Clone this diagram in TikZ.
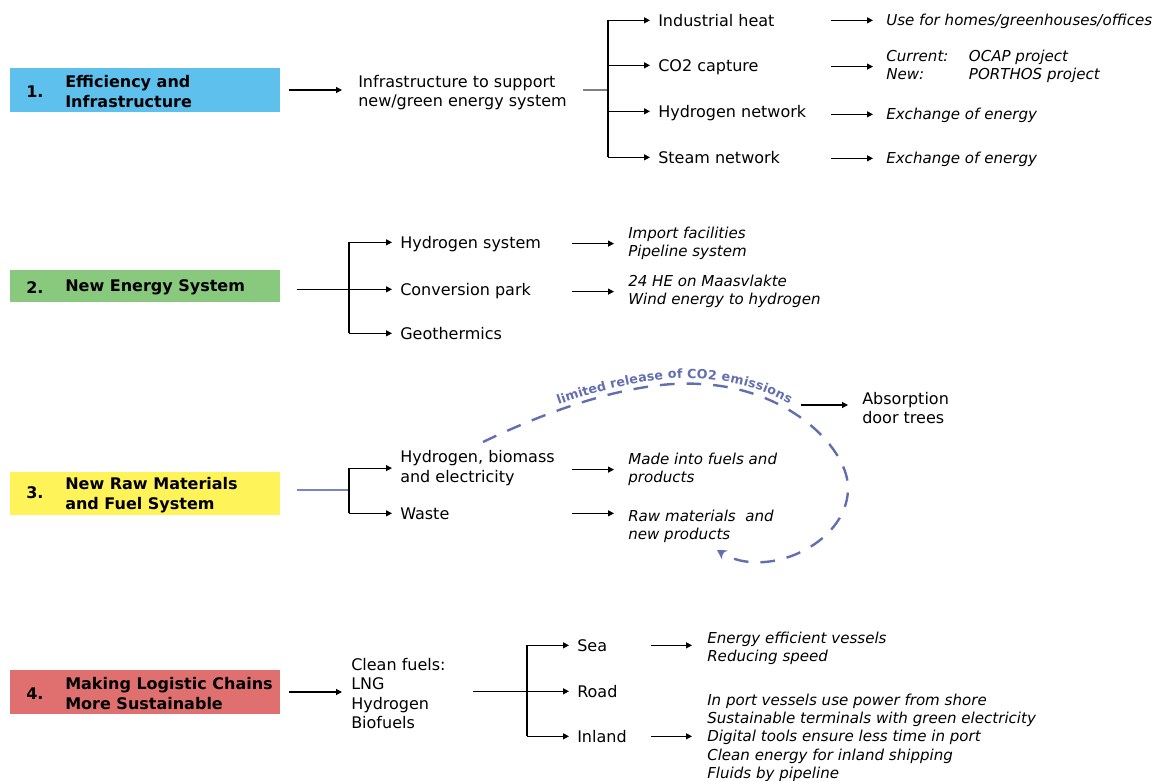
\documentclass[tikz,border=0pt]{standalone}
\usepackage{fontspec}
\setmainfont{DejaVu Sans}
\usetikzlibrary{arrows.meta,decorations.text,positioning}

\definecolor{boxblue}{RGB}{93,192,237}
\definecolor{boxgreen}{RGB}{136,201,126}
\definecolor{boxyellow}{RGB}{255,243,90}
\definecolor{boxred}{RGB}{224,112,112}
\definecolor{loopblue}{RGB}{98,110,176}
\definecolor{feedblue}{RGB}{120,132,200}

\tikzset{
  sect/.style={fill=#1, minimum width=202.5pt, anchor=west, inner sep=0pt},
  num/.style={anchor=west, inner sep=0pt, yshift=-1pt, font=\bfseries\fontsize{12}{15}\selectfont},
  lab/.style={anchor=west, inner sep=0pt, yshift=-1pt, align=left, font=\bfseries\fontsize{12}{15}\selectfont},
  item/.style={anchor=west, inner sep=0pt, yshift=-1pt, text height=8.8pt, text depth=0pt, font=\fontsize{12}{14.5}\selectfont},
  items/.style={anchor=west, inner sep=0pt, yshift=-1.2pt, align=left, font=\fontsize{12}{14.5}\selectfont},
  note/.style={anchor=west, inner sep=0pt, yshift=-1pt, text height=8.2pt, text depth=0pt, font=\itshape\fontsize{11.3}{13.7}\selectfont},
  notes/.style={anchor=west, inner sep=0pt, yshift=-1.2pt, align=left, font=\itshape\fontsize{11.3}{13.7}\selectfont},
  arr/.style={-{Triangle[length=4.5pt,width=4.5pt]}, line width=0.9pt},
  fork/.style={line width=0.9pt},
  stub/.style={gray, line width=0.9pt},
  feed/.style={feedblue, line width=0.8pt},
  co2loop/.style={loopblue, line width=1.8pt, dash pattern=on 11pt off 9pt, -{Stealth[length=7pt,width=8pt]}}
}

\begin{document}
\begin{tikzpicture}[x=0.75pt, y=-0.75pt]
  \useasboundingbox (0,0) rectangle (1160,781);

  % 1. efficiency and infrastructure
  \node[sect=boxblue, minimum height=33pt] (box1) at (10,90) {};
  \node[num] (num1) at (26,90) {1.};
  \node[lab] (lab1) at (65,90) {Efficiency and\\Infrastructure};
  \node[items] (infra) at (358,91) {Infrastructure to support\\new/green energy system};
  \draw[arr, shorten <=6pt, shorten >=12pt] (box1.east) -- (box1.east -| infra.west);

  \coordinate (stub1) at (583,90);
  \coordinate (fork1) at (608,90);
  \node[item] (heat) at (658,19) {Industrial heat};
  \node[item] (co2) at (658,64) {CO2 capture};
  \node[item] (h2net) at (658,110) {Hydrogen network};
  \node[item] (steam) at (658,156) {Steam network};
  \draw[stub] (stub1) -- (fork1);
  \draw[fork] (fork1 |- heat) -- (fork1 |- steam);
  \foreach \n in {heat,co2,h2net,steam}
    \draw[arr, shorten >=6pt] (fork1 |- \n.west) -- (\n.west);

  \coordinate (col1) at (831,0);
  \node[note] (use) at (886,19) {Use for homes/greenhouses/offices};
  \node[notes] (ccs) at (886,65) {\makebox[62pt][l]{Current:}OCAP project\\\makebox[62pt][l]{New:}PORTHOS project};
  \node[note] (exch1) at (886,113) {Exchange of energy};
  \node[note] (exch2) at (886,157) {Exchange of energy};
  \foreach \a in {use,ccs,exch1,exch2}
    \draw[arr, shorten >=9.75pt] (col1 |- \a.west) -- (\a.west);

  % 2. new energy system
  \node[sect=boxgreen, minimum height=24pt] (box2) at (10,286) {};
  \node[num] (num2) at (26,286) {2.};
  \node[lab] (lab2) at (65,286) {New Energy System};
  \coordinate (fork2) at (349,288);
  \node[item] (h2sys) at (400,241) {Hydrogen system};
  \node[item] (conv) at (400,288) {Conversion park};
  \node[item] (geo) at (400,332) {Geothermics};
  \draw[arr, shorten <=12pt, shorten >=6pt] (box2.east |- conv) -- (conv.west);
  \draw[fork] (fork2 |- h2sys) -- (fork2 |- geo);
  \foreach \n in {h2sys,geo}
    \draw[arr, shorten >=6pt] (fork2 |- \n.west) -- (\n.west);

  \coordinate (col2) at (572,0);
  \node[notes] (imp) at (628,242) {Import facilities\\Pipeline system};
  \node[notes] (he) at (628,290) {24 HE on Maasvlakte\\Wind energy to hydrogen};
  \foreach \a in {imp,he}
    \draw[arr, shorten >=10.5pt] (col2 |- \a.west) -- (\a.west);

  % 3. new raw materials and fuel system
  \node[sect=boxyellow, minimum height=32.25pt] (box3) at (10,493.5) {};
  \node[num] (num3) at (26,491) {3.};
  \node[lab] (lab3) at (65,493.5) {New Raw Materials\\and Fuel System};
  \coordinate (fork3) at (349,490);
  \node[items] (bio) at (400,466.5) {Hydrogen, biomass\\and electricity};
  \node[item] (waste) at (400,512) {Waste};
  \draw[feed, shorten <=12pt] (box3.east |- fork3) -- (fork3);
  \draw[fork] (fork3 |- bio) -- (fork3 |- waste);
  \foreach \n in {bio,waste}
    \draw[arr, shorten >=6pt] (fork3 |- \n.west) -- (\n.west);

  \node[notes] (fuels) at (628,468) {Made into fuels and\\products};
  \node[notes] (raw) at (628,525) {Raw materials\ \ and\\new products};
  \draw[arr, shorten >=10.5pt] (col2 |- fuels.west) -- (fuels.west);
  \draw[arr, shorten >=10.5pt] (col2 |- waste) -- (raw.west |- waste);

  \coordinate (loopA) at (483,442);
  \coordinate (loopB) at (700,384);
  \coordinate (loopC) at (848,490);
  \coordinate (loopD) at (717,550);
  \draw[co2loop] (loopA) .. controls (560,405) and (640,380) .. (loopB)
    .. controls (790,388) and (850,450) .. (loopC)
    .. controls (846,545) and (765,580) .. (loopD);
  \path[decorate, decoration={text along path, text color=loopblue,
      text align={left indent=63pt}, raise=4pt,
      text={|\bfseries\fontsize{9.5}{11}\selectfont|limited release of CO2 emissions}}]
    (loopA) .. controls (560,405) and (640,380) .. (loopB)
    .. controls (790,388) and (850,450) .. (loopC);

  \coordinate (emit) at (801,405);
  \node[items] (absorb) at (862,406.5) {Absorption\\door trees};
  \draw[arr, shorten >=10.5pt] (emit) -- (emit -| absorb.west);

  % 4. logistic chains
  \node[sect=boxred, minimum height=33pt] (box4) at (10,692) {};
  \node[num] (num4) at (26,692) {4.};
  \node[lab] (lab4) at (65,692) {Making Logistic Chains\\More Sustainable};
  \node[items] (clean) at (351,692) {Clean fuels:\\LNG\\Hydrogen\\Biofuels};
  \draw[arr, shorten <=6pt, shorten >=6.75pt] (box4.east) -- (box4.east -| clean.west);

  \coordinate (fuel4) at (473,690);
  \coordinate (fork4) at (527,690);
  \node[item] (sea) at (577,644) {Sea};
  \node[item] (road) at (577,690) {Road};
  \node[item] (inland) at (577,735) {Inland};
  \draw[arr, shorten >=6pt] (fuel4 |- road.west) -- (road.west);
  \draw[fork] (fork4 |- sea) -- (fork4 |- inland);
  \foreach \n in {sea,inland}
    \draw[arr, shorten >=6pt] (fork4 |- \n.west) -- (\n.west);

  \coordinate (col4) at (651,0);
  \node[notes] (seanote) at (707,647) {Energy efficient vessels\\Reducing speed};
  \node[notes] (inlnote) at (707,736) {In port vessels use power from shore\\Sustainable terminals with green electricity\\Digital tools ensure less time in port\\Clean energy for inland shipping\\Fluids by pipeline};
  \draw[arr, shorten >=11.25pt] (col4 |- sea) -- (seanote.west |- sea);
  \draw[arr, shorten >=11.25pt] (col4 |- inland) -- (inlnote.west |- inland);
\end{tikzpicture}
\end{document}
